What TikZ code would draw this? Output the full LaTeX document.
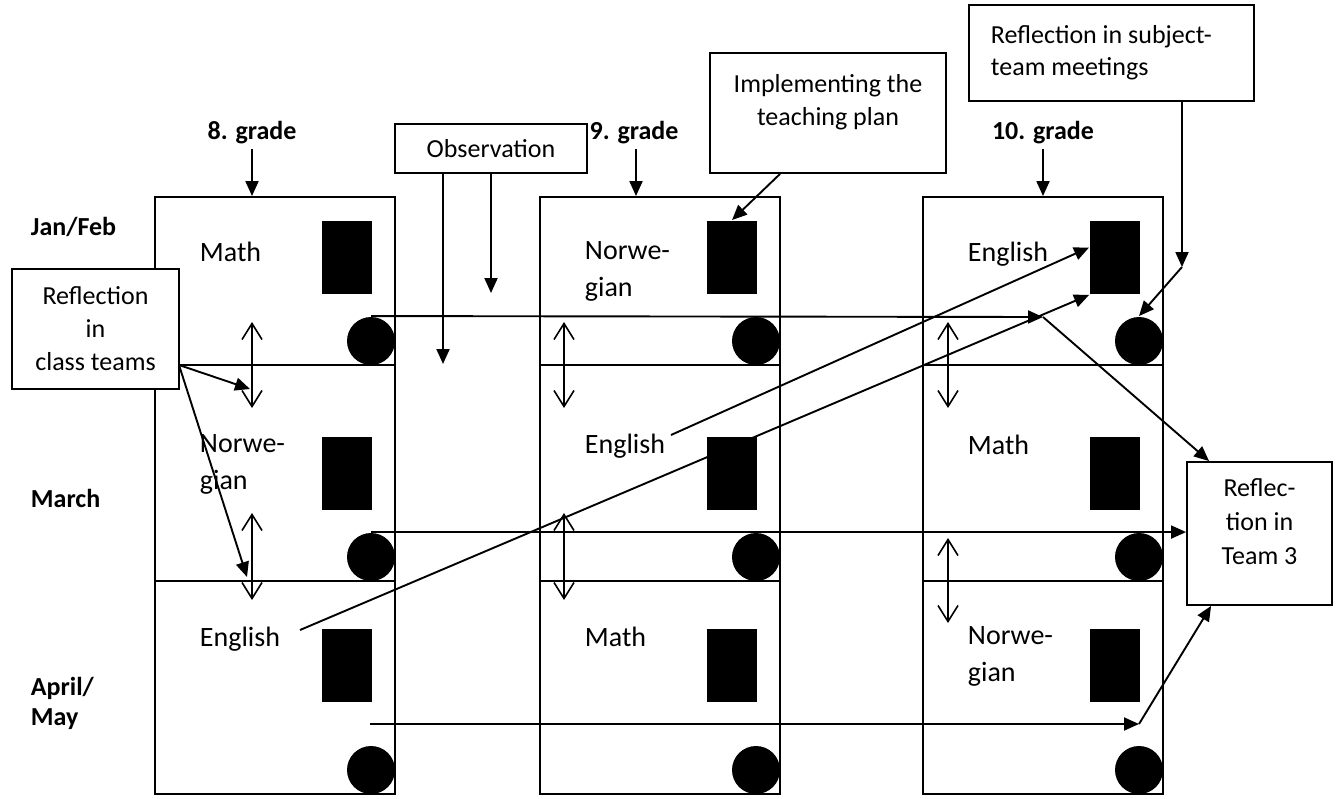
\documentclass[tikz,border=0pt]{standalone}
\usepackage{fontspec}
\setmainfont{Carlito}
\usetikzlibrary{arrows.meta}
\begin{document}
\begin{tikzpicture}[x=1pt,y=-1pt,line width=1.9pt,
  box/.style={draw,fill=white,inner sep=0pt},
  colbox/.style={draw,minimum width=240pt,minimum height=597pt,inner sep=0pt},
  blk/.style={fill=black,minimum width=50pt,minimum height=73pt,inner sep=0pt},
  dot/.style={circle,fill=black,minimum size=48pt,inner sep=0pt},
  cell/.style={font=\fontsize{28}{37}\selectfont,inner sep=0pt,align=left,anchor=north west},
  lab/.style={font=\fontsize{26}{33}\selectfont,inner sep=0pt},
  month/.style={font=\fontsize{26}{30}\bfseries\selectfont,inner sep=0pt,align=left,anchor=north west},
  grade/.style={font=\fontsize{26}{30}\bfseries\selectfont,inner sep=0pt,anchor=base},
  arr/.style={-{Triangle[length=15pt,width=13pt]}},
  dbl/.style={{Straight Barb[length=16pt,width=20pt]}-{Straight Barb[length=16pt,width=20pt]},line width=1.6pt}]
\useasboundingbox (0,0) rectangle (1340,798);

% columns
\node[colbox] (col1) at (275,495.5) {};
\node[colbox] (col2) at (660,495.5) {};
\node[colbox] (col3) at (1043,495.5) {};
\foreach \L in {155,540,923}{
  \draw (\L,365) -- (\L+240,365);
  \draw (\L,581) -- (\L+240,581);
}

% black rectangles
\node[blk] (r11) at (347,257.5) {};
\node[blk] (r12) at (347,473) {};
\node[blk] (r13) at (347,665) {};
\node[blk] (r21) at (732,257.5) {};
\node[blk] (r22) at (732,473) {};
\node[blk] (r23) at (732,665) {};
\node[blk] (r31) at (1115,257.5) {};
\node[blk] (r32) at (1115,473) {};
\node[blk] (r33) at (1115,665) {};

% dots
\node[dot] (d11) at (371,341) {};
\node[dot] (d12) at (371,557) {};
\node[dot] (d13) at (371,770) {};
\node[dot] (d21) at (756,341) {};
\node[dot] (d22) at (756,557) {};
\node[dot] (d23) at (756,770) {};
\node[dot] (d31) at (1139,341) {};
\node[dot] (d32) at (1139,557) {};
\node[dot] (d33) at (1139,770) {};

% subject texts
\node[cell] (m1) at (199,241) {Math};
\node[cell] (n1) at (199,434) {Norwe-\\gian};
\node[cell] (en1) at (199,626) {English};
\node[cell] (n2) at (584,241) {Norwe-\\gian};
\node[cell] (en2) at (584,433) {English};
\node[cell] (m2) at (584,626) {Math};
\node[cell] (en3) at (967,241) {English};
\node[cell] (m3) at (967,434) {Math};
\node[cell] (n3) at (967,626) {Norwe-\\gian};

% months
\node[month] (jan) at (30,216) {Jan/Feb};
\node[month] (mar) at (30,488) {March};
\node[month] (apr) at (30,676) {April/\\May};

% grades
\node[grade] (g8) at (252,139) {8. grade};
\node[grade] (g9) at (634,139) {9. grade};
\node[grade] (g10) at (1043,139) {10. grade};
\draw[arr] ([yshift=-5pt]g8.south) -- (g8.south |- col1.north);
\draw[arr] ([yshift=-5pt,xshift=2pt]g9.south) -- ([xshift=2pt]g9.south |- col2.north);
\draw[arr] ([yshift=-5pt]g10.south) -- (g10.south |- col3.north);

% boxes
\node[box,lab,minimum width=192pt,minimum height=49pt] (obs) at (491,148.5) {Observation};
\node[box,minimum width=236pt,minimum height=120pt] (impl) at (828,113) {};
\node[lab,align=center,anchor=north] (impltxt) at (828,73) {Implementing the\\teaching plan};
\node[box,minimum width=285pt,minimum height=96pt] (subj) at (1111.5,53) {};
\node[lab,align=left,anchor=north west,font=\fontsize{26}{32}\selectfont] (subjtxt) at (990,24) {Reflection in subject-\\team meetings};
\node[box,minimum width=145pt,minimum height=143pt] (t3) at (1259.5,533.5) {};
\node[lab,align=center,anchor=north,font=\fontsize{26}{34}\selectfont] (t3txt) at (1259.5,478) {Reflec-\\tion in\\Team 3};

% observation arrows
\coordinate (oA) at (443,364);
\coordinate (oB) at (491,293);
\draw[arr] (obs.south -| oA) -- (oA);
\draw[arr] (obs.south -| oB) -- (oB);

% implementing arrow
\draw[arr] ([xshift=-48pt]impl.south) -- (r21.north);

% subject-team arrows
\coordinate (sA) at (1182,267);
\draw[arr] (subj.south -| sA) -- (sA);
\draw[arr] (sA) -- (d31.north);

% double arrows
\coordinate (a1t) at (252,322); \coordinate (a1b) at (252,408);
\coordinate (a2t) at (252,513); \coordinate (a2b) at (252,600);
\coordinate (b1t) at (564,322); \coordinate (b1b) at (564,408);
\coordinate (b2t) at (564,513); \coordinate (b2b) at (564,600);
\coordinate (c1t) at (948,322); \coordinate (c1b) at (948,408);
\coordinate (c2t) at (948,538); \coordinate (c2b) at (948,623);
\draw[dbl] (a1t) -- (a1b);
\draw[dbl] (a2t) -- (a2b);
\draw[dbl] (b1t) -- (b1b);
\draw[dbl] (b2t) -- (b2b);
\draw[dbl] (c1t) -- (c1b);
\draw[dbl] (c2t) -- (c2b);

% diagonal lines English -> col3 rect
\coordinate (la) at (300,630);
\draw[arr] (la) -- (r31.south west);
\draw[arr] ([xshift=5pt,yshift=-2pt]en2.north east) -- ([yshift=10pt]r31.west);

% horizontal connectors to Team 3
\coordinate (h1) at (1043,317);
\draw[arr] (d11.north) -- (h1);
\draw[arr] (h1) -- ([xshift=23pt]t3.north west);
\draw[arr] (d12.north) -- (d12.north -| t3.west);
\coordinate (h3s) at (370,724);
\coordinate (h3) at (1139,724);
\draw[arr] (h3s) -- (h3);
\draw[arr] (h3) -- ([xshift=25pt]t3.south west);

% reflection in class teams
\node[box,lab,align=center,minimum width=167pt,minimum height=120pt] (rct) at (95.5,329) {Reflection\\in\\class teams};
\coordinate (rA) at (179,365);
\coordinate (rE1) at (250,389);
\coordinate (rE2) at (247,577);
\draw[arr] (rA) -- (rE1);
\draw[arr] (rA) -- (rE2);
\end{tikzpicture}
\end{document}
